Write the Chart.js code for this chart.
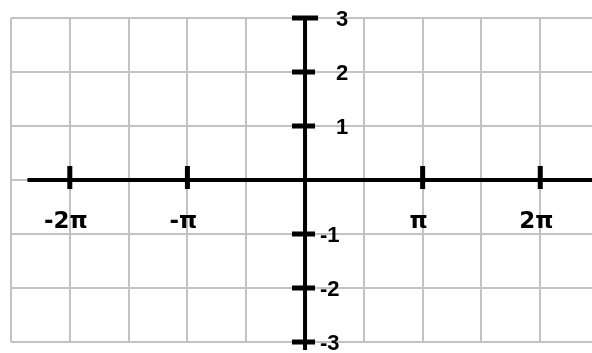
<!DOCTYPE html>
<html>
<head>
<meta charset="utf-8">
<script src="https://cdn.jsdelivr.net/npm/chart.js@4"></script>
<style>
  html, body { margin: 0; padding: 0; background: #fff; }
  canvas { display: block; }
</style>
</head>
<body>
<canvas id="axes-chart" width="592" height="353"></canvas>
<script>
// x is measured in multiples of pi, grid every half pi
const gridX = [-2.5, -2, -1.5, -1, -0.5, 0, 0.5, 1, 1.5, 2];
const gridY = [-3, -2, -1, 0, 1, 2, 3];
const xTickValues = [-2, -1, 1, 2];
const xTickLabels = ["-2π", "-π", "π", "2π"];
const yTickValues = [3, 2, 1, -1, -2, -3];
const yTickLabels = ["3", "2", "1", "-1", "-2", "-3"];
const xAxisSpan = [-2.36, 2.44];
const yAxisSpan = [3, -3.15];

const tickMarks = {
  id: "tickMarks",
  afterDatasetsDraw(chart) {
    const { ctx, scales } = chart;
    const x0 = scales.x.getPixelForValue(0);
    const y0 = scales.y.getPixelForValue(0);
    ctx.save();
    ctx.fillStyle = "#000";
    xTickValues.forEach((v) => {
      const px = scales.x.getPixelForValue(v);
      ctx.fillRect(px - 2.5, y0 - 14, 5, 23);
    });
    yTickValues.forEach((v) => {
      const py = scales.y.getPixelForValue(v);
      const w = v === 3 ? 26 : 23;
      ctx.fillRect(x0 - 13, py - 2.5, w, 5);
    });

    ctx.font = "bold 23px 'DejaVu Sans', sans-serif";
    ctx.textAlign = "center";
    ctx.textBaseline = "middle";
    xTickValues.forEach((v, i) => {
      const px = scales.x.getPixelForValue(v);
      ctx.fillText(xTickLabels[i], px - 4, y0 + 42);
    });

    ctx.font = "bold 22px 'Liberation Sans', Arial, sans-serif";
    ctx.textAlign = "left";
    yTickValues.forEach((v, i) => {
      const py = scales.y.getPixelForValue(v);
      const offset = v > 0 ? 31 : 15;
      ctx.fillText(yTickLabels[i], x0 + offset, py + 2);
    });
    ctx.restore();
  },
};

new Chart(document.getElementById("axes-chart").getContext("2d"), {
  type: "scatter",
  data: {
    datasets: [
      {
        type: "line",
        data: xAxisSpan.map((x) => ({ x, y: 0 })),
        borderColor: "#000",
        borderWidth: 4,
        pointRadius: 0,
        clip: false,
      },
      {
        type: "line",
        data: yAxisSpan.map((y) => ({ x: 0, y })),
        borderColor: "#000",
        borderWidth: 4,
        pointRadius: 0,
        clip: false,
      },
    ],
  },
  options: {
    responsive: false,
    animation: false,
    layout: { padding: { left: 11, top: 18, right: 0, bottom: 11 } },
    plugins: { legend: { display: false }, tooltip: { enabled: false } },
    scales: {
      x: {
        type: "linear",
        min: -2.5,
        max: 2.44,
        afterBuildTicks: (scale) => {
          scale.ticks = gridX.map((value) => ({ value }));
        },
        ticks: { display: false },
        border: { display: false },
        grid: { color: "#c2c2c2", lineWidth: 2, drawTicks: false },
      },
      y: {
        type: "linear",
        min: -3,
        max: 3,
        afterBuildTicks: (scale) => {
          scale.ticks = gridY.map((value) => ({ value }));
        },
        ticks: { display: false },
        border: { display: false },
        grid: { color: "#c2c2c2", lineWidth: 2, drawTicks: false },
      },
    },
  },
  plugins: [tickMarks],
});
</script>
</body>
</html>
